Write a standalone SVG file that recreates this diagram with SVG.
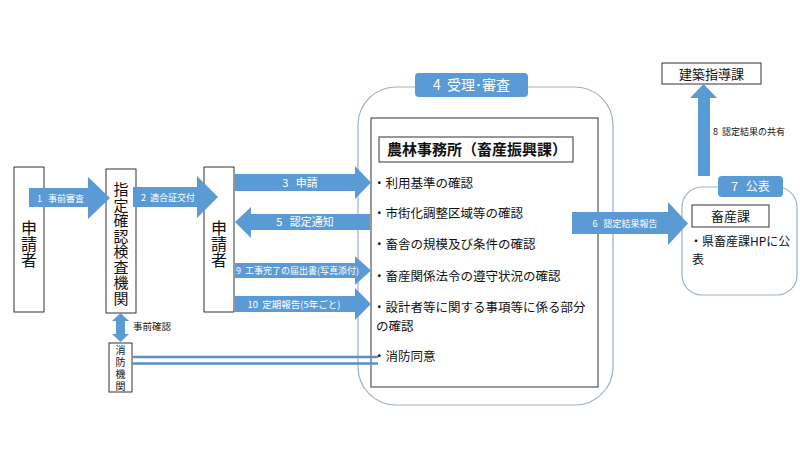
<svg xmlns="http://www.w3.org/2000/svg" width="800" height="450" viewBox="0 0 800 450">
<style>
text{font-family:"Noto Sans CJK JP","Noto Sans",sans-serif;fill:#111}
.box{fill:#fff;stroke:#333;stroke-width:1}
.arr{fill:#5b9bd5}
.rr{fill:#fff;stroke:#9db0c6;stroke-width:1.2}
.pill{fill:#5b9bd5}
.vt{writing-mode:vertical-rl;text-anchor:middle}
.item{font-size:12.5px}
.line{stroke:#5b8fc9;stroke-width:2.5;fill:none}
.w{fill:#fff}
</style>
<rect width="800" height="450" fill="#fff"/>

<g id="review-frame">
<rect class="rr" x="358" y="87" width="255" height="318" rx="38"/>
</g>
<g id="kouhyo-frame">
<rect class="rr" x="682" y="187" width="115" height="108" rx="20"/>
</g>

<g id="applicant1">
<rect class="box" x="14" y="167" width="30" height="145"/>
<text class="vt" x="29" y="244" font-size="16">申請者</text>
</g>

<g id="shitei-kikan">
<rect class="box" x="106" y="169" width="30" height="144"/>
<text class="vt" x="121" y="244" font-size="15" letter-spacing="0.5">指定確認検査機関</text>
</g>

<g id="applicant2">
<rect class="box" x="204" y="167" width="30" height="145"/>
<text class="vt" x="219" y="244" font-size="16">申請者</text>
</g>

<g id="shobo-kikan">
<rect class="box" x="109" y="343" width="23" height="49"/>
<text class="vt" x="120.5" y="369.5" font-size="10" letter-spacing="2">消防機関</text>
</g>

<g id="review-title">
<rect class="pill" x="415" y="73" width="113" height="24" rx="4"/>
<text class="w" x="471.5" y="90" font-size="14" text-anchor="middle">4&#160;&#160;受理･審査</text>
</g>

<g id="noringyo">
<rect class="box" x="371" y="118" width="227" height="269"/>
<rect class="box" x="379" y="137" width="194" height="25"/>
<text x="387" y="155" font-size="15" font-weight="bold">農林事務所（畜産振興課）</text>
<text class="item" x="373" y="188">・利用基準の確認</text>
<text class="item" x="373" y="218">・市街化調整区域等の確認</text>
<text class="item" x="373" y="249">・畜舎の規模及び条件の確認</text>
<text class="item" x="373" y="281">・畜産関係法令の遵守状況の確認</text>
<text class="item" x="373" y="312">・設計者等に関する事項等に係る部分</text>
<text class="item" x="376" y="330.5">の確認</text>
<text class="item" x="373" y="361">・消防同意</text>
</g>

<g id="chikusanka">
<rect class="box" x="692" y="205" width="77" height="22"/>
<text x="730.5" y="221" font-size="13" text-anchor="middle">畜産課</text>
<text x="690" y="245.5" font-size="12">・県畜産課HPに公</text>
<text x="692" y="263.5" font-size="12">表</text>
</g>

<g id="kenchiku-shido">
<rect class="box" x="662" y="63" width="99" height="21"/>
<text x="711.5" y="78.5" font-size="13" text-anchor="middle">建築指導課</text>
</g>

<g id="connectors">
<polygon id="arrow1" class="arr" points="29,188 88,188 88,177 110,198 88,219 88,207 29,207"/>
<polygon id="arrow2" class="arr" points="133,187 197,187 197,176 218,197 197,218 197,207 133,207"/>
<polygon id="arrow3" class="arr" points="235,174 355,174 355,166 371,182.5 355,199 355,191 235,191"/>
<polygon id="arrow5" class="arr" points="370,214 251,214 251,207 235,222 251,238 251,230 370,230"/>
<polygon id="arrow9" class="arr" points="235,263 355,263 355,256 371,270.5 355,285 355,278 235,278"/>
<polygon id="arrow10" class="arr" points="235,296 355,296 355,288 371,304 355,320 355,312 235,312"/>
<polygon id="arrow6" class="arr" points="572,212 668,212 668,202 688,223.5 668,245 668,234 572,234"/>
<polygon id="arrow8" class="arr" points="698,176 698,98 690,98 703.5,84 717,98 710,98 710,176"/>
<polygon id="arrow-jizen" class="arr" points="120.5,313 129,321 125,321 125,334 129,334 120.5,342 112,334 116,334 116,321 112,321"/>
<line class="line" x1="133" y1="357" x2="378" y2="357"/>
<line class="line" x1="133" y1="363.5" x2="378" y2="363.5"/>
<text class="w" x="37" y="202" font-size="9">1&#160;&#160;&#160;事前審査</text>
<text class="w" x="141" y="201" font-size="9">2&#160;&#160;適合証交付</text>
<text class="w" x="300" y="186.5" font-size="11" text-anchor="middle">3&#160;&#160;&#160;申請</text>
<text class="w" x="305" y="226" font-size="11" text-anchor="middle">5&#160;&#160;&#160;認定通知</text>
<text class="w" x="236" y="274" font-size="9">9&#160;&#160;工事完了の届出書(写真添付)</text>
<text class="w" x="294" y="307.5" font-size="9.5" text-anchor="middle">10&#160;&#160;定期報告(5年ごと)</text>
<text class="w" x="625" y="227" font-size="9" text-anchor="middle">6&#160;&#160;&#160;認定結果報告</text>
<text x="713" y="135" font-size="9">8&#160;&#160;認定結果の共有</text>
<text x="133" y="330" font-size="9.5">事前確認</text>
</g>

<g id="kouhyo-title">
<rect class="pill" x="718" y="176" width="65" height="21" rx="4"/>
<text class="w" x="750.5" y="191" font-size="12" text-anchor="middle">7&#160;&#160;&#160;公表</text>
</g>
</svg>
